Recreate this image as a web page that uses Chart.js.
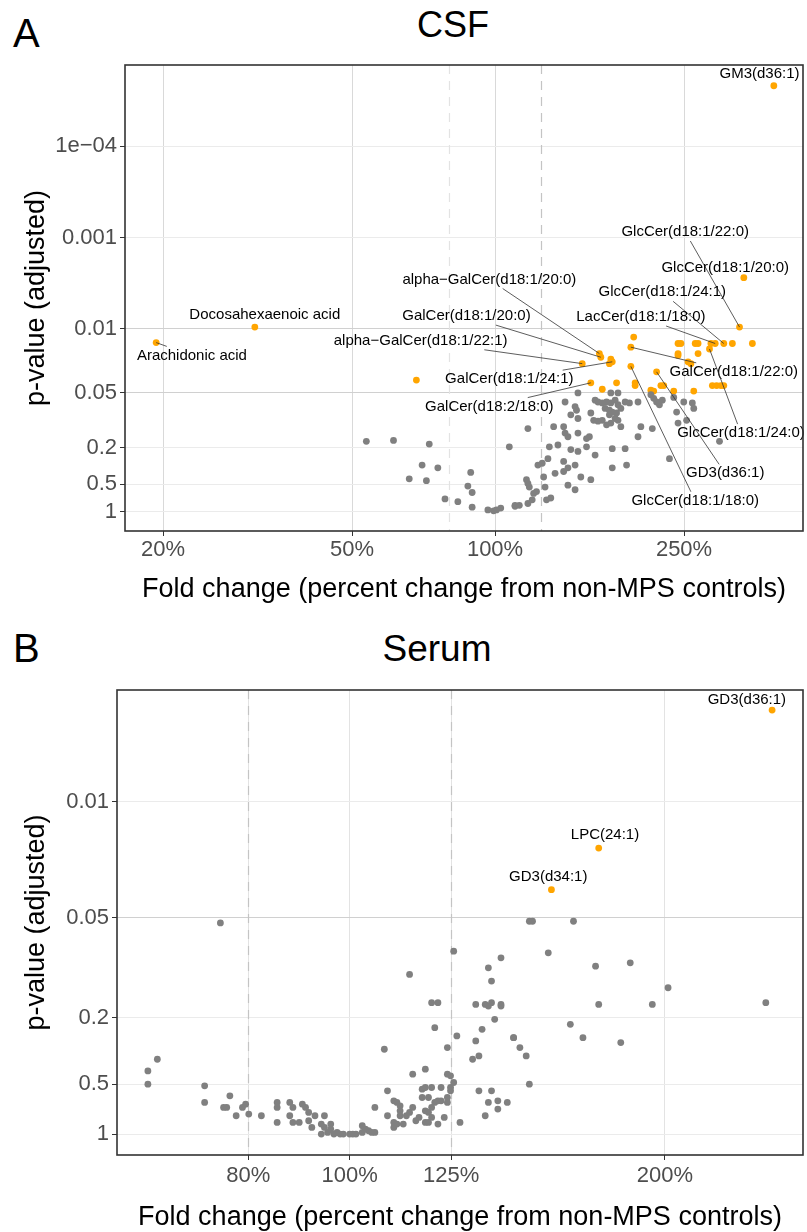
<!DOCTYPE html>
<html>
<head>
<meta charset="utf-8">
<script src="https://cdn.jsdelivr.net/npm/chart.js@4.4.0/dist/chart.umd.min.js"></script>
<style>
html, body { margin: 0; padding: 0; background: #fff; overflow: hidden; }
body { width: 807px; height: 1232px; position: relative; font-family: "Liberation Sans", Arial, sans-serif; }
.txt { position: absolute; line-height: 1; color: #000; white-space: nowrap; }
canvas { position: absolute; left: 0; }
</style>
</head>
<body>
<div class="txt" style="left:13px;top:13px;font-size:40px">A</div>
<div class="txt" style="left:253px;width:400px;text-align:center;top:7px;font-size:36px">CSF</div>
<div class="txt" style="left:13px;top:628px;font-size:40px">B</div>
<div class="txt" style="left:237px;width:400px;text-align:center;top:630px;font-size:37px">Serum</div>
<canvas id="csf" width="807" height="610" style="top:0"></canvas>
<canvas id="serum" width="807" height="640" style="top:610px"></canvas>
<script>
// x = log2 fold change, y = -log10(adjusted p)
var csfOther = [
  [-0.90,0.77],[-0.71,0.78],[-0.46,0.74],[0.10,0.71],[-0.51,0.51],[-0.40,0.48],[-0.17,0.43],[-0.60,0.36],
  [-0.48,0.34],[-0.19,0.28],[-0.16,0.21],[-0.35,0.14],[-0.26,0.11],[-0.16,0.05],[-0.05,0.02],[-0.01,0.01],
  [0.01,0.02],[0.04,0.04],[0.14,0.06],
  [0.58,1.30],[0.81,1.30],[0.86,1.30],[0.49,1.20],[0.56,1.15],[0.57,1.11],[0.70,1.22],[0.72,1.20],[0.75,1.19],
  [0.78,1.20],[0.81,1.19],[0.84,1.22],[0.86,1.17],[0.91,1.20],[0.94,1.19],[0.77,1.13],[0.80,1.11],[0.82,1.09],
  [0.85,1.08],[0.88,1.13],[0.80,1.06],[0.84,1.02],[0.86,1.00],[1.00,1.20],[1.09,1.28],[1.11,1.24],[1.13,1.20],
  [1.15,1.17],[1.17,1.22],[1.25,1.25],[1.27,1.09],[1.32,1.20],[1.38,1.19],[1.39,1.13],[1.28,0.97],[1.34,1.00],
  [0.67,1.08],[0.69,1.00],[0.72,0.99],[0.75,1.00],[0.78,0.95],[0.81,0.97],[0.88,0.93],[0.53,1.06],[0.58,1.02],
  [0.41,0.93],[0.48,0.93],[0.49,0.86],[0.23,0.91],[0.51,0.82],[0.58,0.86],[0.64,0.80],[0.66,0.82],[1.02,0.93],
  [1.10,0.91],[1.00,0.82],[1.57,0.77],[0.38,0.71],[0.44,0.73],[0.53,0.68],[0.58,0.66],[0.64,0.71],[0.82,0.69],
  [0.91,0.69],[0.70,0.62],[1.22,0.58],[0.30,0.51],[0.33,0.53],[0.37,0.58],[0.48,0.55],[0.56,0.51],[0.42,0.42],
  [0.48,0.44],[0.51,0.48],[0.34,0.38],[0.60,0.38],[0.67,0.35],[0.82,0.48],[0.92,0.51],[0.22,0.35],[0.23,0.31],
  [0.24,0.27],[0.35,0.27],[0.51,0.29],[0.56,0.24],[0.27,0.20],[0.29,0.22],[0.26,0.13],[0.23,0.09],[0.36,0.13],
  [0.39,0.15],[0.14,0.07],[0.17,0.07]
];
var csfSig = [
  [-0.55,1.44],[1.28,1.84],[1.30,1.84],[1.40,1.84],[1.42,1.84],[1.51,1.84],[1.66,1.84],[1.80,1.84],[0.97,1.91],
  [1.28,1.73],[1.28,1.71],[1.42,1.73],[1.35,1.64],[1.37,1.62],[0.81,1.67],[0.80,1.62],[0.85,1.41],[0.98,1.41],
  [0.98,1.38],[1.09,1.33],[1.11,1.32],[1.16,1.38],[1.18,1.38],[0.75,1.34],[1.25,1.32],[1.39,1.32],[1.52,1.38],
  [1.55,1.38],[1.58,1.38],[1.60,1.38]
];
var csfHitNames = ['GM3(d36:1)','Arachidonic acid','Docosahexaenoic acid','GlcCer(d18:1/22:0)','GlcCer(d18:1/20:0)',
  'GlcCer(d18:1/24:1)','LacCer(d18:1/18:0)','alpha\u2212GalCer(d18:1/20:0)','GalCer(d18:1/20:0)',
  'alpha\u2212GalCer(d18:1/22:1)','GalCer(d18:1/22:0)','GalCer(d18:1/24:1)','GalCer(d18:2/18:0)',
  'GlcCer(d18:1/24:0)','GD3(d36:1)','GlcCer(d18:1/18:0)'];
var csfHitFC  = [1.95,-2.37,-1.68,1.71,1.74,1.60,1.54,0.73,0.74,0.61,0.95,0.82,0.67,1.50,1.13,0.95];
var csfHitNLP = [4.66,1.85,2.02,2.02,2.56,1.84,1.84,1.73,1.69,1.62,1.80,1.64,1.41,1.78,1.53,1.59];
// where each text label sits (same units as the axes)
var csfLabelAt = [[1.85,4.79],[-2.12,1.71],[-1.61,2.15],[1.33,3.06],[1.61,2.67],[1.17,2.40],[1.02,2.13],
  [-0.04,2.54],[-0.20,2.14],[-0.52,1.87],[1.67,1.53],[0.10,1.45],[-0.04,1.15],[1.72,0.86],[1.61,0.42],[1.40,0.12]];
var csfXTicks = [-2.3219, -1, 0, 1.3219];
var csfXLabels = ['20%', '50%', '100%', '250%'];
var csfYTicks = [4, 3, 2, 1.301, 0.699, 0.301, 0];
var csfYLabels = ['1e\u221204', '0.001', '0.01', '0.05', '0.2', '0.5', '1'];

var serumOther = [
  [-0.41,1.27],[0.33,1.10],[0.19,0.96],[0.26,0.79],[0.28,0.79],[0.27,0.64],[0.34,0.59],[0.11,0.51],[0.31,0.52],
  [-0.61,0.45],[-0.64,0.38],[-0.64,0.30],[0.20,0.36],[0.24,0.39],[0.31,0.36],[0.32,0.35],[0.33,0.31],[-0.46,0.29],
  [-0.46,0.19],[-0.38,0.23],[-0.40,0.16],[-0.39,0.16],[-0.36,0.11],[-0.34,0.16],[-0.33,0.18],[-0.32,0.12],
  [-0.28,0.11],[-0.23,0.19],[-0.23,0.16],[-0.23,0.07],[-0.19,0.19],[-0.18,0.16],[-0.19,0.11],[-0.18,0.07],
  [-0.16,0.07],[-0.15,0.18],[-0.14,0.16],[-0.13,0.13],[-0.11,0.11],[-0.13,0.08],[-0.12,0.04],[-0.08,0.11],
  [-0.09,0.06],[-0.08,0.04],[-0.09,0.00],[-0.07,0.01],[-0.06,0.06],[-0.06,0.03],[-0.05,0.00],[-0.04,0.01],
  [-0.03,0.00],[-0.02,0.00],[0.00,0.00],[0.01,0.00],[0.02,0.00],[0.04,0.01],[0.04,0.05],[0.05,0.03],[0.06,0.02],
  [0.07,0.01],[0.08,0.01],[0.08,0.16],[0.12,0.26],[0.12,0.11],[0.14,0.07],[0.14,0.04],[0.15,0.06],[0.14,0.20],
  [0.15,0.19],[0.16,0.17],[0.16,0.14],[0.16,0.11],[0.18,0.11],[0.19,0.13],[0.17,0.06],[0.20,0.16],[0.21,0.08],
  [0.22,0.10],[0.23,0.27],[0.23,0.22],[0.24,0.28],[0.25,0.22],[0.24,0.07],[0.25,0.07],[0.26,0.10],[0.26,0.16],
  [0.27,0.19],[0.24,0.14],[0.25,0.13],[0.26,0.28],[0.28,0.20],[0.28,0.06],[0.29,0.28],[0.30,0.10],[0.31,0.19],
  [0.31,0.22],[0.32,0.28],[0.35,0.07],
  [0.57,1.28],[0.58,1.28],[0.71,1.28],[0.63,1.09],[0.48,1.06],[0.44,1.00],[0.78,1.01],[0.89,1.03],[0.45,0.92],
  [1.01,0.88],[0.40,0.78],[0.43,0.78],[0.44,0.77],[0.45,0.79],[0.48,0.78],[0.48,0.77],[0.79,0.78],[0.96,0.78],
  [1.32,0.79],[0.46,0.69],[0.70,0.66],[0.42,0.63],[0.52,0.58],[0.52,0.58],[0.74,0.58],[0.86,0.55],[0.40,0.56],
  [0.54,0.52],[0.39,0.45],[0.41,0.47],[0.56,0.47],[0.32,0.26],[0.41,0.26],[0.45,0.26],[0.57,0.30],[0.29,0.20],
  [0.44,0.19],[0.47,0.20],[0.50,0.19],[0.47,0.15],[0.43,0.11]
];
var serumSig = [];
var serumHitNames = ['GD3(d36:1)', 'LPC(24:1)', 'GD3(d34:1)'];
var serumHitFC  = [1.34, 0.79, 0.64];
var serumHitNLP = [2.55, 1.72, 1.47];
var serumLabelAt = [[1.26,2.61],[0.81,1.80],[0.63,1.55]];
var serumXTicks = [-0.3219, 0, 0.3219, 1];
var serumXLabels = ['80%', '100%', '125%', '200%'];
var serumYTicks = [2, 1.301, 0.699, 0.301, 0];
var serumYLabels = ['0.01', '0.05', '0.2', '0.5', '1'];

var cutoffs = [-0.3219, 0.3219];   // 80% and 125%
var FONT = '"Liberation Sans", Arial, sans-serif';
var XTITLE = 'Fold change (percent change from non-MPS controls)';

var panelPlugin = {
  id: 'panel',
  beforeDatasetsDraw: function(chart) {
    var o = chart.options.plugins.panel, ctx = chart.ctx, a = chart.chartArea, xs = chart.scales.x;
    ctx.save();
    ctx.lineWidth = 1.2;
    ctx.setLineDash([9, 7]);
    o.dashed.forEach(function(v, i) {
      var px = Math.round(xs.getPixelForValue(v)) + 0.5;
      ctx.strokeStyle = o.dashColors[i];
      ctx.beginPath(); ctx.moveTo(px, a.top); ctx.lineTo(px, a.bottom); ctx.stroke();
    });
    ctx.restore();
  },
  afterDatasetsDraw: function(chart) {
    var o = chart.options.plugins.panel, ctx = chart.ctx, xs = chart.scales.x, ys = chart.scales.y;
    ctx.save();
    ctx.font = '15px ' + FONT;
    ctx.textAlign = 'center';
    ctx.textBaseline = 'middle';
    o.names.forEach(function(name, i) {
      var cx = xs.getPixelForValue(o.labelAt[i][0]), cy = ys.getPixelForValue(o.labelAt[i][1]);
      var px = xs.getPixelForValue(o.fc[i]), py = ys.getPixelForValue(o.nlp[i]);
      var hw = ctx.measureText(name).width / 2 + 2, hh = 9;
      var dx = px - cx, dy = py - cy;
      var t = Math.min(dx ? hw / Math.abs(dx) : Infinity, dy ? hh / Math.abs(dy) : Infinity);
      if (t < 1) {
        var sx = cx + dx * t, sy = cy + dy * t;
        if (Math.hypot(px - sx, py - sy) > 7) {
          ctx.strokeStyle = '#333';
          ctx.lineWidth = 0.8;
          ctx.beginPath(); ctx.moveTo(sx, sy); ctx.lineTo(px, py); ctx.stroke();
        }
      }
      ctx.fillStyle = '#000';
      ctx.fillText(name, cx, cy);
    });
    ctx.restore();
  },
  afterDraw: function(chart) {
    var ctx = chart.ctx, a = chart.chartArea;
    ctx.save();
    ctx.strokeStyle = '#333';
    ctx.lineWidth = 1.6;
    ctx.strokeRect(a.left, a.top, a.right - a.left, a.bottom - a.top);
    ctx.restore();
  }
};

function toPts(list) { return list.map(function(p) { return {x: p[0], y: p[1]}; }); }

function volcano(id, c) {
  var hits = c.hitFC.map(function(v, i) { return {x: v, y: c.hitNLP[i]}; });
  return new Chart(document.getElementById(id), {
    type: 'scatter',
    data: {
      datasets: [
        {data: toPts(c.other), backgroundColor: '#808080', pointRadius: 3.4, borderWidth: 0},
        {data: toPts(c.sig).concat(hits), backgroundColor: '#FFA500', pointRadius: 3.4, borderWidth: 0}
      ]
    },
    options: {
      responsive: false,
      animation: false,
      events: [],
      layout: {padding: {top: c.top, right: c.right, left: 0, bottom: 0}},
      plugins: {
        legend: {display: false},
        tooltip: {enabled: false},
        panel: {dashed: cutoffs, dashColors: c.dashColors, names: c.names, fc: c.hitFC, nlp: c.hitNLP, labelAt: c.labelAt}
      },
      scales: {
        x: {
          type: 'linear', min: c.xMin, max: c.xMax,
          afterBuildTicks: function(s) { s.ticks = c.xTicks.map(function(v) { return {value: v}; }); },
          afterFit: function(s) { s.height = c.xH; },
          ticks: {autoSkip: false, maxRotation: 0, padding: c.xTickPad, color: '#4d4d4d', font: {size: 22, family: FONT},
                  callback: function(v, i) { return c.xLabels[i]; }},
          grid: {color: c.xGrid, lineWidth: 1, tickColor: '#333', tickLength: 5},
          border: {display: false},
          title: {display: true, text: XTITLE, color: '#000', font: {size: 27, family: FONT}, padding: {top: 0, bottom: c.xTitlePad}}
        },
        y: {
          type: 'linear', min: c.yMin, max: c.yMax,
          afterBuildTicks: function(s) { s.ticks = c.yTicks.map(function(v) { return {value: v}; }); },
          afterFit: function(s) { s.width = c.yW; },
          ticks: {autoSkip: false, padding: 3, color: '#4d4d4d', font: {size: 22, family: FONT},
                  callback: function(v, i) { return c.yLabels[i]; }},
          grid: {color: function(ctx) { return c.yGrid(ctx.tick ? ctx.tick.value : 0); }, lineWidth: 1, tickColor: '#333', tickLength: 5},
          border: {display: false},
          title: {display: true, text: 'p-value (adjusted)', color: '#000', font: {size: 27, family: FONT}, padding: {top: 20, bottom: 0}}
        }
      }
    },
    plugins: [panelPlugin]
  });
}

volcano('csf', {
  other: csfOther, sig: csfSig, names: csfHitNames, hitFC: csfHitFC, hitNLP: csfHitNLP, labelAt: csfLabelAt,
  xTicks: csfXTicks, xLabels: csfXLabels, yTicks: csfYTicks, yLabels: csfYLabels,
  xMin: -2.588, xMax: 2.154, yMin: -0.211, yMax: 4.887,
  top: 65, right: 1, yW: 125, xH: 79, xTickPad: 1, xTitlePad: 4,
  xGrid: '#d9d9d9',
  yGrid: function(v) { return (v === 2 || v === 1.301) ? '#d0d0d0' : '#ebebeb'; },
  dashColors: ['#e3e3e3', '#c4c4c4']
});

volcano('serum', {
  other: serumOther, sig: serumSig, names: serumHitNames, hitFC: serumHitFC, hitNLP: serumHitNLP, labelAt: serumLabelAt,
  xTicks: serumXTicks, xLabels: serumXLabels, yTicks: serumYTicks, yLabels: serumYLabels,
  xMin: -0.738, xMax: 1.438, yMin: -0.126, yMax: 2.671,
  top: 80, right: 4, yW: 117, xH: 95, xTickPad: 3, xTitlePad: 16,
  xGrid: '#e3e3e3',
  yGrid: function(v) { return v === 1.301 ? '#d0d0d0' : '#ebebeb'; },
  dashColors: ['#c4c4c4', '#c4c4c4']
});
</script>
</body>
</html>
